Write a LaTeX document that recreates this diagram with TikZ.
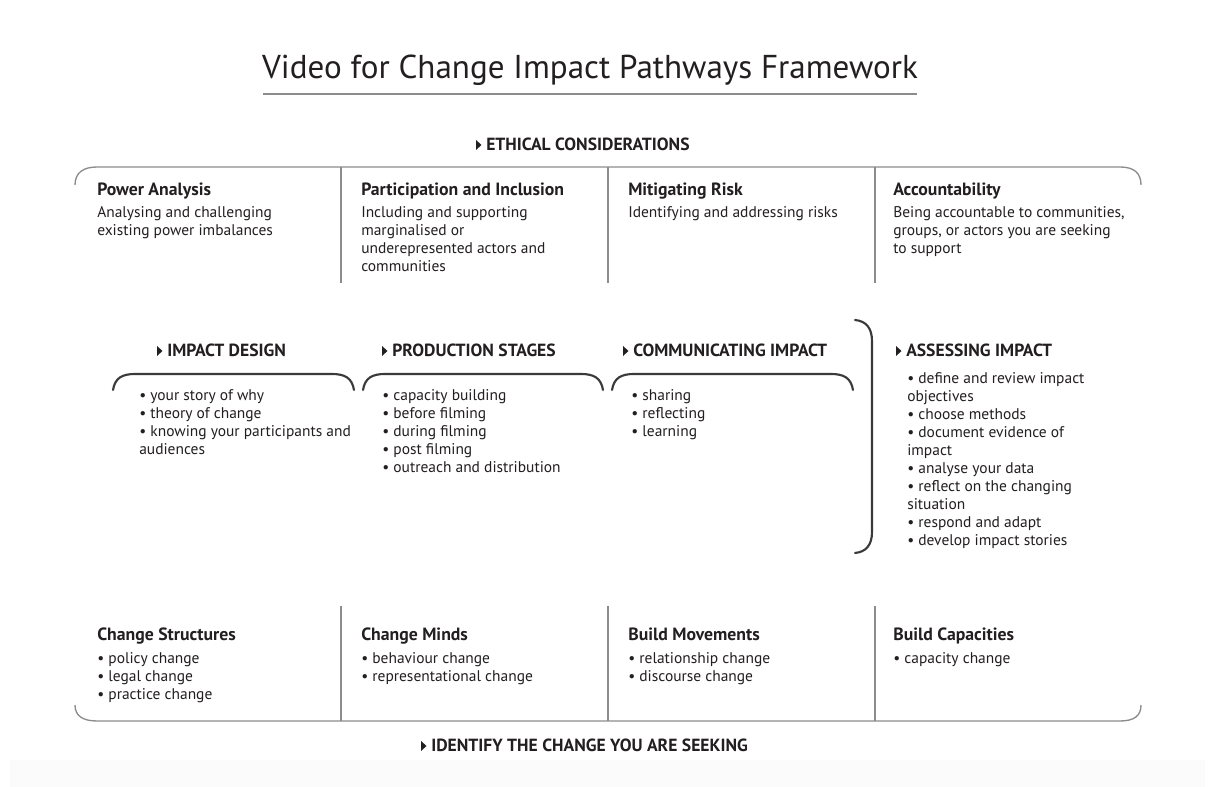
\documentclass[tikz,border=0pt]{standalone}
\usepackage{fontspec}
\setmainfont{PT Sans}
\usetikzlibrary{calc}
\definecolor{ink}{HTML}{231F20}
\definecolor{rule}{HTML}{8C8C8C}
\definecolor{brk}{HTML}{3A3A3C}
\begin{document}
\begin{tikzpicture}[x=0.75pt,y=-0.75pt,
  every node/.style={inner sep=0pt, text=ink},
  titlefont/.style={font=\fontsize{24.8}{28}\selectfont},
  caphead/.style={font=\fontsize{13.2}{15}\selectfont\bfseries, anchor=base west},
  colhead/.style={font=\fontsize{13.3}{15}\selectfont\bfseries, anchor=base west},
  body/.style={font=\fontsize{11.6}{13.5}\selectfont, anchor=north west, align=left},
  framerule/.style={draw=rule, line width=1pt},
  divider/.style={draw=rule, line width=1pt},
  bracket/.style={draw=brk, line width=1.6pt, line cap=round},
  tri/.style={fill=ink}
]
\useasboundingbox (0,0) rectangle (1215,787);
\fill[white] (0,0) rectangle (1215,787);
\fill[black!1.5] (10,760) rectangle (1205,787);

% title
\node[titlefont, anchor=base] (title) at (590,79) {Video for Change Impact Pathways Framework};
\coordinate (ul1) at (263,94);
\coordinate (ul2) at (917,94);
\draw[draw=rule, line width=1pt] (ul1) -- (ul2);

\newcommand{\headtri}[1]{\fill[tri] ($(#1.base west)+(-10,-11)$) -- ++(0,10) -- ++(5.5,-5) -- cycle;}

% ethical considerations
\node[caphead] (eth) at (486,151) {ETHICAL CONSIDERATIONS};
\headtri{eth}

% top frame
\draw[framerule] (75,185) .. controls (75,173) and (83,167) .. (97,167) -- (1120,167) .. controls (1134,167) and (1141,173) .. (1141,185);
\foreach \x in {341,608,875} \draw[divider] (\x,167) -- (\x,283);

\node[colhead] (pa) at (97,196) {Power Analysis};
\node[body] (pab) at (97,206) {Analysing and challenging\\existing power imbalances};
\node[colhead] (pi) at (361,196) {Participation and Inclusion};
\node[body] (pib) at (361,206) {Including and supporting\\marginalised or\\underepresented actors and\\communities};
\node[colhead] (mr) at (628,196) {Mitigating Risk};
\node[body] (mrb) at (628,206) {Identifying and addressing risks};
\node[colhead] (ac) at (893,196) {Accountability};
\node[body] (acb) at (893,206) {Being accountable to communities,\\groups, or actors you are seeking\\to support};

% middle headings
\node[caphead] (id) at (167,357) {IMPACT DESIGN};
\headtri{id}
\node[caphead] (ps) at (392,357) {PRODUCTION STAGES};
\headtri{ps}
\node[caphead] (ci) at (633,357) {COMMUNICATING IMPACT};
\headtri{ci}
\node[caphead] (ai) at (906,357) {ASSESSING IMPACT};
\headtri{ai}

% brackets
\draw[bracket] (113,390) .. controls (115,378) and (122,374) .. (135,374) -- (332,374) .. controls (345,374) and (352,378) .. (354,390);
\draw[bracket] (363,390) .. controls (365,378) and (372,374) .. (385,374) -- (581,374) .. controls (594,374) and (601,378) .. (603,390);
\draw[bracket] (612,390) .. controls (614,378) and (621,374) .. (634,374) -- (831,374) .. controls (844,374) and (851,378) .. (853,390);
\draw[bracket] (855,320) .. controls (866,321) and (872,328) .. (872,341) -- (872,532) .. controls (872,545) and (866,552) .. (855,553);

% lists
\node[body] (idl) at (139,389) {• your story of why\\• theory of change\\• knowing your participants and\\audiences};
\node[body] (psl) at (382,389) {• capacity building\\• before filming\\• during filming\\• post filming\\• outreach and distribution};
\node[body] (cil) at (631,389) {• sharing\\• reflecting\\• learning};
\node[body] (ail) at (907,372) {• define and review impact\\objectives\\• choose methods\\• document evidence of\\impact\\• analyse your data\\• reflect on the changing\\situation\\• respond and adapt\\• develop impact stories};

% bottom frame
\draw[framerule] (75,705) .. controls (75,716) and (83,721) .. (97,721) -- (1120,721) .. controls (1134,721) and (1141,716) .. (1141,705);
\foreach \x in {341,608,875} \draw[divider] (\x,606) -- (\x,721);

\node[colhead] (cs) at (97,641) {Change Structures};
\node[body] (csb) at (97,652) {• policy change\\• legal change\\• practice change};
\node[colhead] (cm) at (361,641) {Change Minds};
\node[body] (cmb) at (361,652) {• behaviour change\\• representational change};
\node[colhead] (bm) at (628,641) {Build Movements};
\node[body] (bmb) at (628,652) {• relationship change\\• discourse change};
\node[colhead] (bc) at (893,641) {Build Capacities};
\node[body] (bcb) at (893,652) {• capacity change};

\node[caphead] (ic) at (431,752) {IDENTIFY THE CHANGE YOU ARE SEEKING};
\headtri{ic}
\end{tikzpicture}
\end{document}
